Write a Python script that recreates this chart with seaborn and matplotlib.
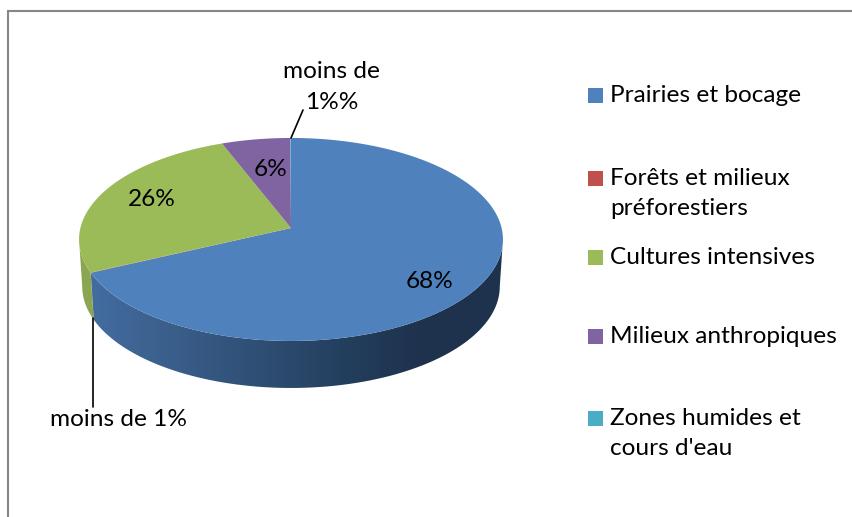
import numpy as np
import matplotlib
matplotlib.use('Agg')
import matplotlib.pyplot as plt
from matplotlib.patches import Polygon, Rectangle
import seaborn as sns

categories = ['Prairies et bocage', 'Forêts et milieux\npréforestiers', 'Cultures intensives',
              'Milieux anthropiques', "Zones humides et\ncours d'eau"]
values = [68.0, 0.05, 26.05, 5.85, 0.05]
pie_labels = ['68%', 'moins de 1%', '26%', '6%', 'moins de\n1%%']
colors = ['#4f81bd', '#c0504d', '#9bbb59', '#8064a2', '#4bacc6']
side_colors = ['#3c6291', '#94403c', '#8aa650', '#66508a', '#3a8fa8']

sns.set_theme(style='white')
plt.rcParams['font.family'] = ['Lato', 'DejaVu Sans']

fig = plt.figure(figsize=(8.53, 5.17), dpi=100)
ax = fig.add_axes([0, 0, 1, 1])
ax.set_xlim(0, 853)
ax.set_ylim(517, 0)
ax.axis('off')

# perspective of the tilted disc
cx, cy = 291, 228
k = 0.113
rx, ry = 210.6, 100.2
depth = 47
lower_scale = 0.985


def rim(t):
    s = 1 + k * np.sin(t)
    return cx + rx * np.cos(t) / s, cy - ry * np.sin(t) / s


# slices run clockwise from 12 o'clock
edges = np.pi / 2 - 2 * np.pi * np.cumsum([0] + values) / sum(values)

# sides first, only the front of the disc shows one (widest points of the rim are at sin t = -k)
side_cmap = sns.blend_palette(['#436c9f', '#3a5e8a', '#2f4f75', '#24405f', '#1e324d', '#1e324d'], as_cmap=True)
widest = np.arcsin(k)
for i in range(len(values)):
    start = min(edges[i], -widest)
    end = max(edges[i + 1], -np.pi + widest)
    if start <= end:
        continue
    t = np.linspace(start, end, 200)
    x, y = rim(t)
    low_x = cx + (x - cx) * lower_scale
    pts = np.vstack([np.column_stack([x, y]), np.column_stack([low_x, y + depth])[::-1]])
    if i == 0:
        patch = Polygon(pts, closed=True, fc='none', ec='none')
        ax.add_patch(patch)
        grad = ax.imshow(np.linspace(0, 1, 256)[None, :], extent=[x.min(), x.max(), 400, 130],
                         cmap=side_cmap, aspect='auto', zorder=1)
        grad.set_clip_path(patch)
    else:
        ax.add_patch(Polygon(pts, closed=True, fc=side_colors[i], ec='none', zorder=1))
ax.set_xlim(0, 853)
ax.set_ylim(517, 0)

# top of the disc
for i in range(len(values)):
    x, y = rim(np.linspace(edges[i], edges[i + 1], 200))
    pts = np.vstack([[cx, cy], np.column_stack([x, y])])
    ax.add_patch(Polygon(pts, closed=True, fc=colors[i], ec='none', zorder=2))

# slice labels
fs = 17.6
ax.text(430, 281, pie_labels[0], ha='center', va='center', fontsize=fs, color='black', zorder=3)
ax.text(152, 199, pie_labels[2], ha='center', va='center', fontsize=fs, color='black', zorder=3)
ax.text(271, 169, pie_labels[3], ha='center', va='center', fontsize=fs, color='black', zorder=3)
ax.text(118.5, 419, pie_labels[1], ha='center', va='center', fontsize=fs, color='black', zorder=3)
ax.text(332, 87, pie_labels[4], ha='center', va='center', fontsize=fs, color='black', linespacing=1.6, zorder=3)
ax.plot([93, 93], [318, 407], color='black', lw=1.2, zorder=3)
ax.plot([291, 303], [138, 110], color='black', lw=1.2, zorder=3)

# legend, entries are not evenly spaced
legend_y = [95, 178, 257, 336, 418]
for name, col, ly in zip(categories, colors, legend_y):
    ax.add_patch(Rectangle((588, ly - 7.5), 15, 15, fc=col, ec='none', zorder=3))
    ax.text(610, ly - 10, name, ha='left', va='top', fontsize=fs, color='black', linespacing=1.55, zorder=3)

# chart frame, only top and left are in the crop
ax.plot([8, 8, 853], [517, 11, 11], color='#868686', lw=1.5, zorder=4, solid_joinstyle='miter')

fig.savefig('out.png', dpi=100)
